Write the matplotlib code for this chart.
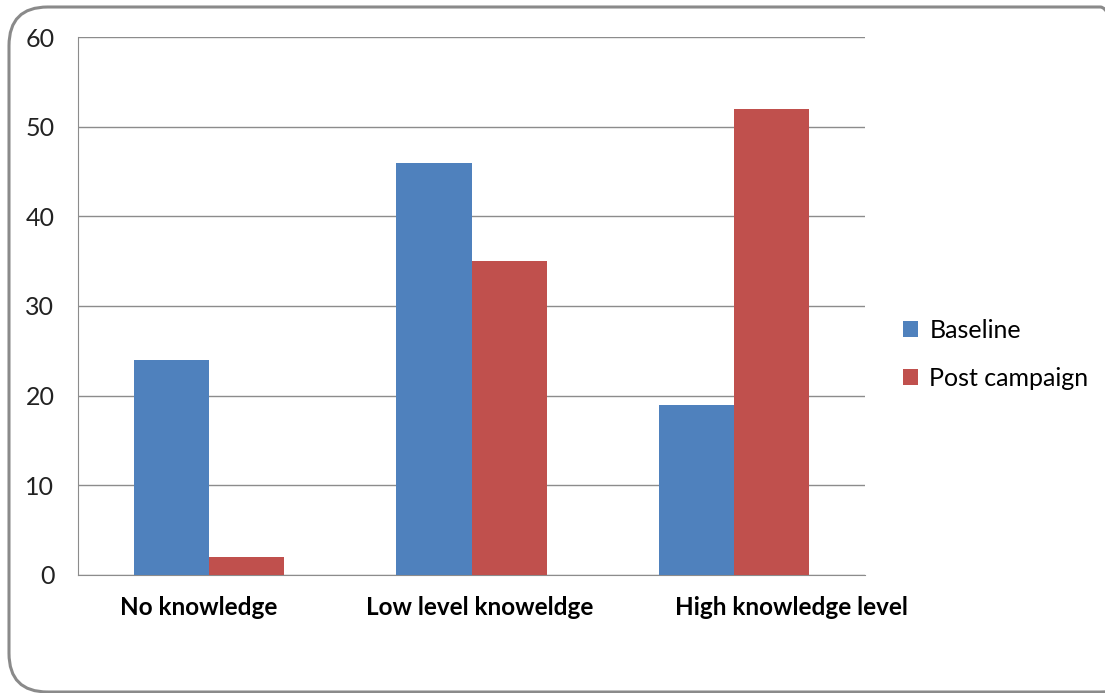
import matplotlib.pyplot as plt
import matplotlib.transforms as mtransforms
import numpy as np
from matplotlib.patches import FancyBboxPatch

categories = ["No knowledge", "Low level knoweldge", "High knowledge level"]
baseline = [24, 46, 19]
post_campaign = [2, 35, 52]
series_names = ["Baseline", "Post campaign"]

plt.rcParams['font.family'] = ['Lato', 'DejaVu Sans']

fig = plt.figure(figsize=(11.05, 6.93), dpi=100)
ax = fig.add_axes([0.0706, 0.1703, 0.7122, 0.7763])

# rounded frame round the whole chart
frame = FancyBboxPatch((9 / 1105, 1 / 693), 1130 / 1105, 685 / 693,
                       boxstyle="round,pad=0,rounding_size=0.035",
                       transform=fig.transFigure, fill=False,
                       edgecolor='#8a8a8a', linewidth=2.2,
                       mutation_aspect=1105 / 693, clip_on=False)
fig.patches.append(frame)

x = np.arange(len(categories))
w = 0.286
ax.bar(x - w / 2, baseline, w, color='#4f81bd', label=series_names[0], zorder=3)
ax.bar(x + w / 2, post_campaign, w, color='#c0504d', label=series_names[1], zorder=3)

ax.set_xlim(-0.5, 2.5)
ax.set_ylim(0, 60)
ax.set_yticks(range(0, 61, 10))
ax.yaxis.grid(True, color='#8c8c8c', linewidth=1, zorder=0)
ax.set_xticks(x)
ax.set_xticklabels(categories, fontsize=17.5, fontweight='bold')
ax.tick_params(axis='x', length=0, pad=15)
ax.tick_params(axis='y', length=0, pad=17, labelsize=18, labelcolor='#222222')

# the category labels in the original sit a little off their groups
for lab, dx in zip(ax.get_xticklabels(), [-10, 8, 58]):
    lab.set_transform(lab.get_transform() +
                      mtransforms.ScaledTranslation(dx / 100, 0, fig.dpi_scale_trans))

for s in ['top', 'right']:
    ax.spines[s].set_visible(False)
for s in ['left', 'bottom']:
    ax.spines[s].set_color('#8c8c8c')

ax.legend(loc='center left', bbox_to_anchor=(1.02, 0.41), frameon=False,
          fontsize=18, handlelength=0.6, handleheight=0.6,
          handletextpad=0.45, labelspacing=1.0)

fig.savefig('out.png', dpi=100)
